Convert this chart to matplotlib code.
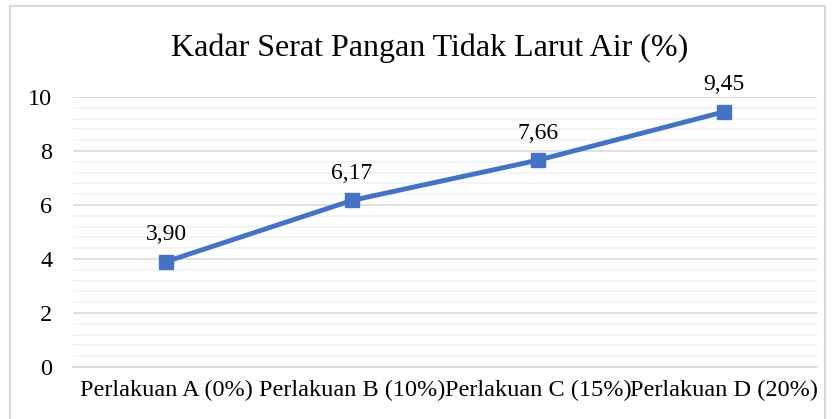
import numpy as np
import matplotlib
matplotlib.use('Agg')
import matplotlib.pyplot as plt
from matplotlib.patches import Rectangle

categories = ['Perlakuan A (0%)', 'Perlakuan B (10%)', 'Perlakuan C (15%)', 'Perlakuan D (20%)']
values = [3.90, 6.17, 7.66, 9.45]
labels = ['3,90', '6,17', '7,66', '9,45']

plt.rcParams['font.family'] = ['Liberation Serif', 'DejaVu Serif']

fig = plt.figure(figsize=(8.34, 4.19), dpi=100)
ax = fig.add_axes([73/834, 1-367/419, 744/834, 270/419])

# outer chart border
fig.patches.append(Rectangle((10/834, -0.05), 815/834, 1.05-6/419, transform=fig.transFigure,
                             fill=False, edgecolor='#d9d9d9', linewidth=1.5))

x = np.arange(len(categories))
ax.plot(x, values, color='#4472C4', linewidth=3.5, marker='s', markersize=10, zorder=3)
for xi, v, lab in zip(x, values, labels):
    ax.annotate(lab, (xi, v), xytext=(0, 12), textcoords='offset points',
                ha='center', va='bottom', fontsize=17)

ax.set_xlim(-0.5, len(categories) - 0.5)
ax.set_ylim(0, 10)
ax.set_yticks(np.arange(0, 11, 2))
ax.set_yticks(np.arange(0, 10.01, 0.4), minor=True)
ax.grid(axis='y', which='major', color='#d9d9d9', linewidth=1.2, zorder=0)
ax.grid(axis='y', which='minor', color='#f2f2f2', linewidth=1.2, zorder=0)
ax.set_xticks(x)
ax.set_xticklabels(categories)
ax.tick_params(axis='both', which='both', length=0, labelsize=17.5)
ax.tick_params(axis='y', pad=15)
ax.tick_params(axis='x', pad=9)
for s in ax.spines.values():
    s.set_visible(False)
ax.spines['bottom'].set_visible(True)
ax.spines['bottom'].set_color('#d9d9d9')
ax.spines['bottom'].set_linewidth(1.2)

fig.text(430/834, 1-48/419, 'Kadar Serat Pangan Tidak Larut Air (%)', ha='center', va='center', fontsize=23)

fig.savefig('out.png', dpi=100)
